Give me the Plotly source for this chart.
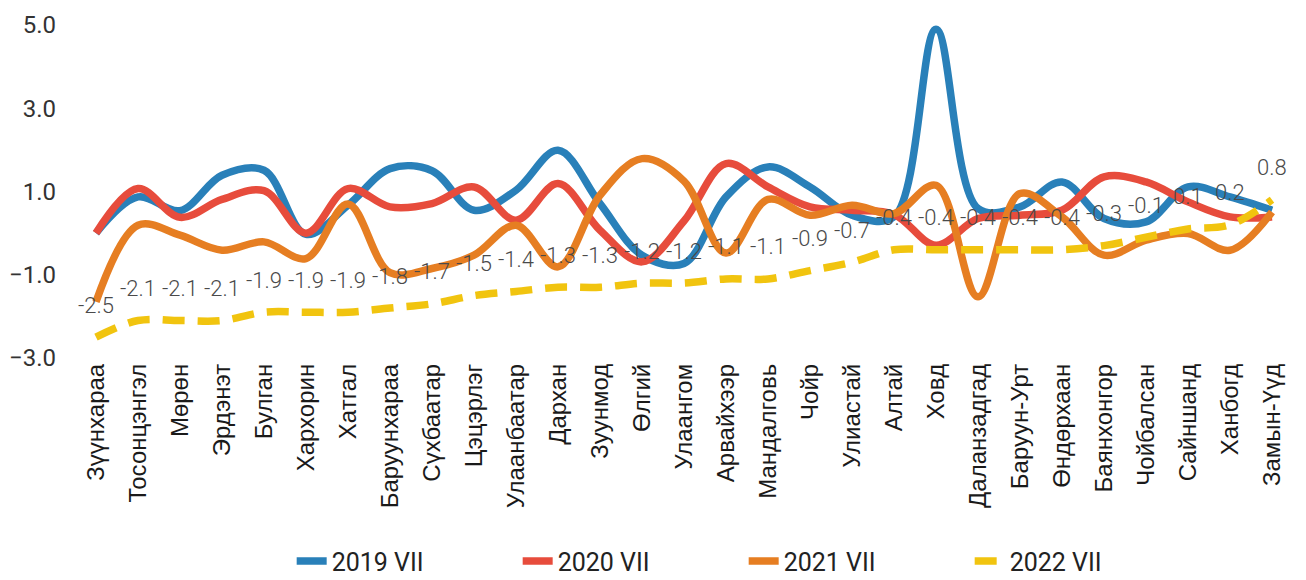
import plotly.graph_objects as go

categories = ["Зүүнхараа", "Тосонцэнгэл", "Мөрөн", "Эрдэнэт", "Булган", "Хархорин", "Хатгал",
              "Баруунхараа", "Сүхбаатар", "Цэцэрлэг", "Улаанбаатар", "Дархан", "Зуунмод", "Өлгий",
              "Улаангом", "Арвайхээр", "Мандалговь", "Чойр", "Улиастай", "Алтай", "Ховд",
              "Даланзадгад", "Баруун-Урт", "Өндөрхаан", "Баянхонгор", "Чойбалсан", "Сайншанд",
              "Ханбогд", "Замын-Үүд"]

s2019 = [0.0, 0.87, 0.54, 1.39, 1.51, -0.03, 0.67, 1.55, 1.5, 0.55, 1.03, 1.99, 0.71, -0.53,
         -0.73, 0.87, 1.59, 1.11, 0.43, 0.39, 4.9, 0.59, 0.63, 1.23, 0.35, 0.27, 1.11, 0.87, 0.55]
s2020 = [0.0, 1.07, 0.38, 0.81, 1.02, 0.0, 1.07, 0.63, 0.71, 1.11, 0.31, 1.19, 0.07, -0.69,
         0.29, 1.67, 1.11, 0.63, 0.55, 0.45, -0.29, 0.35, 0.43, 0.55, 1.35, 1.23, 0.75, 0.39, 0.39]
s2021 = [-1.65, 0.19, -0.05, -0.41, -0.21, -0.61, 0.7, -0.95, -0.85, -0.53, 0.19, -0.81, 0.91, 1.79,
         1.25, -0.48, 0.81, 0.43, 0.67, 0.47, 1.15, -1.53, 0.95, 0.39, -0.53, -0.17, -0.01, -0.41, 0.51]
s2022 = [-2.5, -2.1, -2.1, -2.1, -1.9, -1.9, -1.9, -1.8, -1.7, -1.5, -1.4, -1.3, -1.3, -1.2,
         -1.2, -1.1, -1.1, -0.9, -0.7, -0.4, -0.4, -0.4, -0.4, -0.4, -0.3, -0.1, 0.1, 0.2, 0.8]

series_names = ["2019 VII", "2020 VII", "2021 VII", "2022 VII"]
series_values = [s2019, s2020, s2021, s2022]
colors = ["#2980B9", "#E74C3C", "#E67E22", "#F1C40F"]
y_ticks = [-3, -1, 1, 3, 5]

fig = go.Figure()
for name, vals, col in zip(series_names, series_values, colors):
    dash = "22px,13px" if name == "2022 VII" else "solid"
    fig.add_trace(go.Scatter(
        x=categories, y=vals, name=name, mode="lines",
        line=dict(color=col, width=7.5, shape="spline", smoothing=1.0, dash=dash),
    ))

annotations = []
for c, v in zip(categories, s2022):
    annotations.append(dict(
        x=c, y=v, xref="x", yref="y", text=f"{v:.1f}", showarrow=False,
        yshift=32, yanchor="middle", xanchor="center",
        font=dict(family="Roboto", size=22, color="#4a4a4a", weight=300),
    ))

fig.update_layout(
    width=1306, height=580,
    margin=dict(l=75, r=13, t=25, b=222, autoexpand=False),
    paper_bgcolor="white", plot_bgcolor="white",
    showlegend=True,
    legend=dict(
        orientation="h", x=0.549, xanchor="center", y=-0.61, yanchor="middle",
        font=dict(family="Roboto", size=25, color="#222222", weight=400),
        entrywidth=181, entrywidthmode="pixels", itemwidth=30,
        bgcolor="rgba(0,0,0,0)",
    ),
    annotations=annotations,
    xaxis=dict(
        type="category", range=[-0.5, len(categories) - 0.5],
        showgrid=False, zeroline=False, showline=False, ticks="",
        tickangle=-90, automargin=False,
        tickfont=dict(family="Liberation Sans, Arial", size=24, color="#1a1a1a"),
    ),
    yaxis=dict(
        range=[-3, 5], tickvals=y_ticks, tickformat=".1f", automargin=False,
        showgrid=False, zeroline=False, showline=False, ticks="",
        ticklabelstandoff=18,
        tickfont=dict(family="Roboto", size=24, color="#333333", weight=400),
    ),
)

fig.write_html("out.html", config={"displayModeBar": False},
               post_script="document.body.style.margin='0';")
